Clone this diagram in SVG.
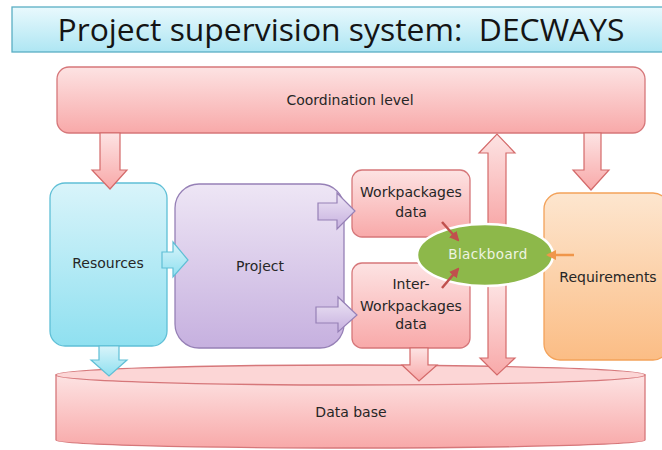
<svg xmlns="http://www.w3.org/2000/svg" width="662" height="450" viewBox="0 0 662 450">
<defs>
<linearGradient id="gTitle" x1="0" y1="0" x2="0" y2="1"><stop offset="0" stop-color="#e9f9fd"/><stop offset="1" stop-color="#aee6f3"/></linearGradient>
<linearGradient id="gPink" x1="0" y1="0" x2="0" y2="1"><stop offset="0" stop-color="#fde3e3"/><stop offset="1" stop-color="#f8a9a9"/></linearGradient>
<linearGradient id="gCyan" x1="0" y1="0" x2="0" y2="1"><stop offset="0" stop-color="#d9f4fa"/><stop offset="1" stop-color="#8fe0f0"/></linearGradient>
<linearGradient id="gPurple" x1="0" y1="0" x2="0" y2="1"><stop offset="0" stop-color="#eee6f5"/><stop offset="1" stop-color="#c6b0df"/></linearGradient>
<linearGradient id="gOrange" x1="0" y1="0" x2="0" y2="1"><stop offset="0" stop-color="#fde6cf"/><stop offset="1" stop-color="#fbbd85"/></linearGradient>
<marker id="mRed" viewBox="0 0 10 10" refX="8" refY="5" markerWidth="4" markerHeight="4" orient="auto"><path d="M0,0 L10,5 L0,10 Z" fill="#c0504d"/></marker>
<marker id="mOrange" viewBox="0 0 10 10" refX="8" refY="5" markerWidth="4" markerHeight="4" orient="auto"><path d="M0,0 L10,5 L0,10 Z" fill="#f0964a"/></marker>
</defs>
<style>
.t{font-family:"DejaVu Sans","Liberation Sans",sans-serif;fill:#262626;text-anchor:middle}
.s{font-size:14px}
.pink{fill:url(#gPink);stroke:#d6777a;stroke-width:1.3}
.cyan{fill:url(#gCyan);stroke:#5fbfd6;stroke-width:1.3}
.purple{fill:url(#gPurple);stroke:#9680b6;stroke-width:1.3}
.parrow{fill:url(#gPink);stroke:#d46a6a;stroke-width:1.2}
.carrow{fill:url(#gCyan);stroke:#5fbfd6;stroke-width:1.2}
.uarrow{fill:url(#gPurple);stroke:#9680b6;stroke-width:1.2}
</style>
<rect width="662" height="450" fill="#ffffff"/>

<g id="title">
<rect x="12" y="7" width="660" height="45" fill="url(#gTitle)" stroke="#5aaec4" stroke-width="1.3"/>
<text x="341" y="41" font-family="'Open Sans','Liberation Sans',sans-serif" font-size="31" fill="#141414" text-anchor="middle" textLength="567" lengthAdjust="spacingAndGlyphs">Project supervision system:&#160; DECWAYS</text>
</g>

<g id="database">
<path d="M56,375 L56,440 A294.5,8 0 0 0 645,440 L645,375 Z" class="pink"/>
<ellipse cx="350.5" cy="375" rx="294.5" ry="10" fill="#fcd6d6" stroke="#d6777a" stroke-width="1.3"/>
<text x="351" y="417" class="t s">Data base</text>
</g>

<g id="coordination">
<rect x="57" y="67" width="588" height="66" rx="12" class="pink"/>
<text x="350" y="105" class="t s">Coordination level</text>
</g>

<g id="resources">
<rect x="50" y="183" width="117" height="163" rx="15" class="cyan"/>
<text x="108" y="268" class="t s">Resources</text>
</g>

<g id="project">
<rect x="175" y="184" width="169" height="164" rx="24" class="purple"/>
<text x="260" y="271" class="t s">Project</text>
</g>

<g id="workpackages">
<rect x="352" y="170" width="118" height="67" rx="10" class="pink"/>
<text x="411" y="197" class="t s">Workpackages</text>
<text x="411" y="217" class="t s">data</text>
</g>

<g id="interworkpackages">
<rect x="352" y="263" width="118" height="85" rx="10" class="pink"/>
<text x="411" y="289" class="t s">Inter-</text>
<text x="411" y="311" class="t s">Workpackages</text>
<text x="411" y="329" class="t s">data</text>
</g>

<g id="requirements">
<rect x="544" y="193" width="125" height="167" rx="16" fill="url(#gOrange)" stroke="#f3a25a" stroke-width="1.3"/>
<text x="608" y="282" class="t s">Requirements</text>
</g>

<g id="connectors">
<polygon class="parrow" points="100,133 120,133 120,170 127,170 110,189 92,170 100,170"/>
<polygon class="parrow" points="584,133 601,133 601,170 609,170 591,190 573,170 584,170"/>
<polygon class="carrow" points="99,346 119,346 119,360 127,360 109,376 91,360 99,360"/>
<polygon class="parrow" points="410,348 428,348 428,365 437,365 419,381 402,365 410,365"/>
<polygon class="parrow" points="488,284 506,284 506,358 515,358 497,375 480,358 488,358"/>
<polygon class="parrow" points="488,226 506,226 506,153 515,153 497,134 479,153 488,153"/>
<polygon class="carrow" points="162,252 173,252 173,242 188,260 173,277 173,268 162,268"/>
<polygon class="uarrow" points="318,203 337,203 337,193 355,211 337,229 337,220 318,220"/>
<polygon class="uarrow" points="316,307 338,307 338,297 357,315 338,332 338,323 316,323"/>
</g>

<g id="blackboard">
<ellipse cx="485" cy="255" rx="68" ry="31" fill="#8db84a" stroke="#ffffff" stroke-width="2.5"/>
<text x="488" y="259" class="t" font-size="13.5" style="fill:#eef4e2;letter-spacing:0.4px">Blackboard</text>
</g>

<g id="connectors-small">
<line x1="442" y1="222" x2="458" y2="240" stroke="#c0504d" stroke-width="2.5" marker-end="url(#mRed)"/>
<line x1="442" y1="288" x2="458" y2="269" stroke="#c0504d" stroke-width="2.5" marker-end="url(#mRed)"/>
<line x1="574" y1="255" x2="548" y2="255" stroke="#f0964a" stroke-width="2.5" marker-end="url(#mOrange)"/>
</g>
</svg>
